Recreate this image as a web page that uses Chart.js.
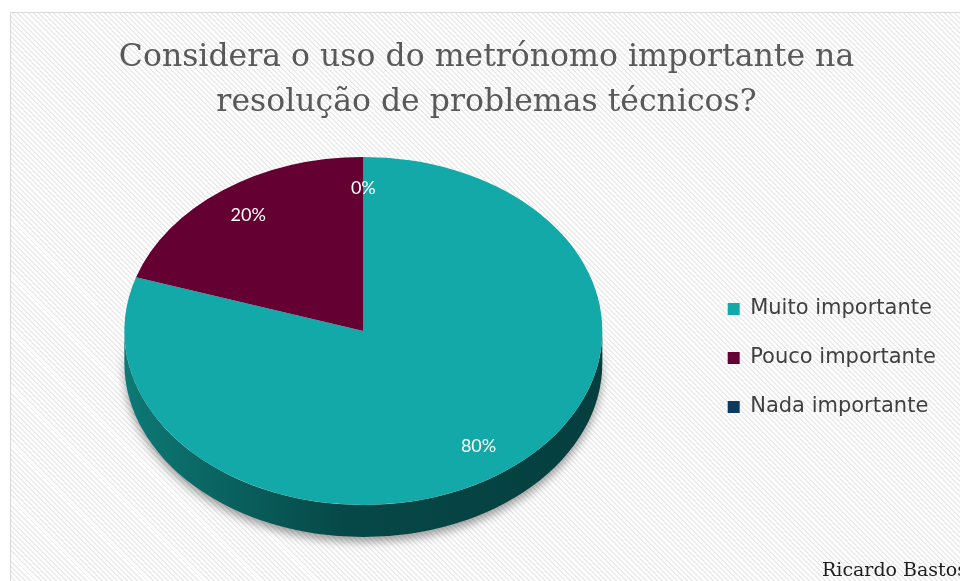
<!DOCTYPE html>
<html lang="pt">
<head>
<meta charset="utf-8">
<title>Metrónomo</title>
<script src="https://cdn.jsdelivr.net/npm/chart.js@4.4.0/dist/chart.umd.min.js"></script>
<style>
    html, body { margin: 0; padding: 0; background: #fff; width: 960px; height: 581px; overflow: hidden; }
    #frame {
        position: absolute; left: 10px; top: 12px; width: 990px; height: 600px;
        border: 1px solid #d9d9d9;
        background: repeating-linear-gradient(45deg, #ebebeb 0px, #ebebeb 1.4px, #ffffff 1.4px, #ffffff 3.6px);
    }
    #chart { position: absolute; left: 0; top: 0; }
    #autor {
        position: absolute; left: 822px; top: 558px; white-space: nowrap;
        font: 19px/22px "DejaVu Serif", serif; color: #1e1e1e;
    }
</style>
</head>
<body>
<div id="frame"><canvas id="chart" width="960" height="569"></canvas></div>
<div id="autor">Ricardo Bastos</div>
<script>
// dados do gráfico
const titleLines = ['Considera o uso do metrónomo importante na', 'resolução de problemas técnicos?'];
const categories = ['Muito importante', 'Pouco importante', 'Nada importante'];
const percentages = [80, 20, 0];

// estilo
const sliceColors = ['#12a9a8', '#650032', '#0f3a5f'];
const sideColors = [['#0d7975', '#064948', '#053e3e'], ['#4a0025', '#3a001d', '#30001a'], ['#0a2a45', '#082238', '#061c2e']];
const SQUASH = 174 / 239;   // achatamento do topo (efeito 3D)
const DEPTH = 32;           // espessura da "fatia"
const LABEL_POS = 0.82;     // posição dos rótulos no raio

// Plugin que desenha a espessura do bolo e achata o topo
const pie3d = {
    id: 'pie3d',
    beforeDatasetsDraw(chart) {
        const ctx = chart.ctx;
        const arcs = chart.getDatasetMeta(0).data;
        const {x, y, outerRadius} = arcs[0].getProps(['x', 'y', 'outerRadius'], true);
        const ry = outerRadius * SQUASH;

        arcs.forEach((arc, i) => {
            const {startAngle, endAngle} = arc.getProps(['startAngle', 'endAngle'], true);
            [[0, Math.PI], [2 * Math.PI, 3 * Math.PI]].forEach(([lo, hi]) => {
                const a1 = Math.max(startAngle, lo);
                const a2 = Math.min(endAngle, hi);
                if (a2 <= a1) return;
                const grad = ctx.createLinearGradient(x - outerRadius, 0, x + outerRadius, 0);
                grad.addColorStop(0, sideColors[i][0]);
                grad.addColorStop(0.45, sideColors[i][1]);
                grad.addColorStop(1, sideColors[i][2]);
                ctx.save();
                ctx.beginPath();
                ctx.ellipse(x, y, outerRadius, ry, 0, a1, a2);
                ctx.ellipse(x, y + DEPTH, outerRadius, ry, 0, a2, a1, true);
                ctx.closePath();
                ctx.shadowColor = 'rgba(0, 0, 0, 0.38)';
                ctx.shadowBlur = 10;
                ctx.shadowOffsetY = 5;
                ctx.fillStyle = grad;
                ctx.fill();
                ctx.restore();
            });
        });

        ctx.save();
        ctx.translate(x, y);
        ctx.scale(1, SQUASH);
        ctx.translate(-x, -y);
    },
    afterDatasetsDraw(chart) {
        const ctx = chart.ctx;
        ctx.restore();

        const meta = chart.getDatasetMeta(0);
        ctx.save();
        ctx.font = '18px Lato';
        ctx.fillStyle = '#ffffff';
        ctx.textAlign = 'center';
        ctx.textBaseline = 'middle';
        meta.data.forEach((arc, i) => {
            const {x, y, startAngle, endAngle, outerRadius} =
                arc.getProps(['x', 'y', 'startAngle', 'endAngle', 'outerRadius'], true);
            const mid = (startAngle + endAngle) / 2;
            const r = outerRadius * LABEL_POS;
            ctx.fillText(percentages[i] + '%', x + r * Math.cos(mid), y + r * SQUASH * Math.sin(mid));
        });
        ctx.restore();
    }
};

new Chart(document.getElementById('chart'), {
    type: 'pie',
    data: {
        labels: categories,
        datasets: [{
            data: percentages,
            backgroundColor: sliceColors,
            borderWidth: 0,
            radius: 239
        }]
    },
    options: {
        responsive: false,
        animation: false,
        layout: { padding: { left: 16, right: 25, top: 0, bottom: 53 } },
        plugins: {
            tooltip: { enabled: false },
            title: {
                display: true,
                text: titleLines,
                color: '#595959',
                font: { family: '"DejaVu Serif", serif', size: 31.5, weight: 'normal', lineHeight: 45 / 31.5 },
                padding: { top: 22, bottom: 8 }
            },
            legend: {
                position: 'right',
                title: { display: true, text: '', font: { size: 10, lineHeight: 1 }, padding: { top: 0, bottom: 164 } },
                labels: {
                    boxWidth: 12,
                    boxHeight: 12,
                    padding: 28,
                    color: '#404040',
                    font: { family: '"DejaVu Sans", sans-serif', size: 21 }
                }
            }
        }
    },
    plugins: [pie3d]
});
</script>
</body>
</html>
